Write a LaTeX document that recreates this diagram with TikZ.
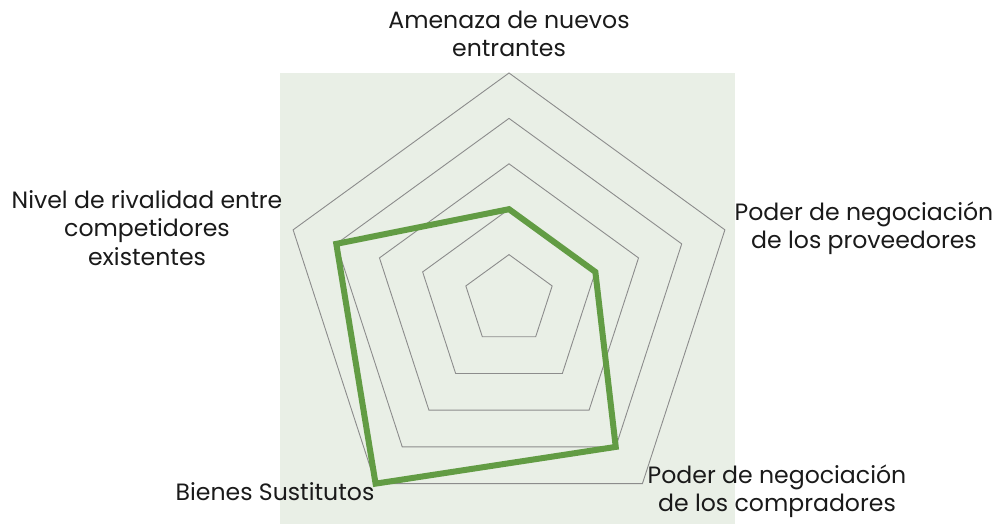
\documentclass[tikz,border=0pt]{standalone}
\usepackage{fontspec}
\setmainfont{Poppins}
\definecolor{plotbg}{HTML}{E9EFE6}
\definecolor{gridgray}{HTML}{8C8C8C}
\definecolor{seriesgreen}{HTML}{629C44}
\definecolor{labeltext}{HTML}{1A1A1A}

\begin{document}
\begin{tikzpicture}[
  x=1pt,y=1pt,
  axis label/.style={align=center,text=labeltext,inner sep=0,font=\fontsize{23.6}{28.5}\selectfont},
  ring/.style={draw=gridgray,line width=0.9pt},
  series/.style={draw=seriesgreen,line width=6pt,line join=miter},
]
  \useasboundingbox (0,0) rectangle (1002,524);
  \fill[plotbg] (280,0) rectangle (735,451);
  \coordinate (c) at (509,224);

  % grid rings
  \foreach \k in {1,...,5}
    \draw[ring] ([shift={(90:45.4*\k)}]c) -- ([shift={(18:45.4*\k)}]c) -- ([shift={(-54:45.4*\k)}]c)
      -- ([shift={(-126:45.4*\k)}]c) -- ([shift={(162:45.4*\k)}]c) -- cycle;

  % data points
  \coordinate (amenaza) at ([shift={(90:90.8)}]c);
  \coordinate (proveedores) at ([shift={(18:90.8)}]c);
  \coordinate (compradores) at ([shift={(-54:181.6)}]c);
  \coordinate (sustitutos) at ([shift={(-126:227)}]c);
  \coordinate (rivalidad) at ([shift={(162:181.6)}]c);
  \draw[series] (amenaza) -- (proveedores) -- (compradores) -- (sustitutos) -- (rivalidad) -- cycle;

  % labels
  \node[axis label] (l-amenaza) at (509,490) {Amenaza de nuevos\\entrantes};
  \node[axis label] (l-proveedores) at (864,295.5) {Poder de negociación\\de los proveedores};
  \node[axis label] (l-compradores) at (777,32.5) {Poder de negociación\\de los compradores};
  \node[axis label] (l-sustitutos) at (275,32) {Bienes Sustitutos};
  \node[axis label] (l-rivalidad) at (147,296) {Nivel de rivalidad entre\\competidores\\existentes};
\end{tikzpicture}
\end{document}
